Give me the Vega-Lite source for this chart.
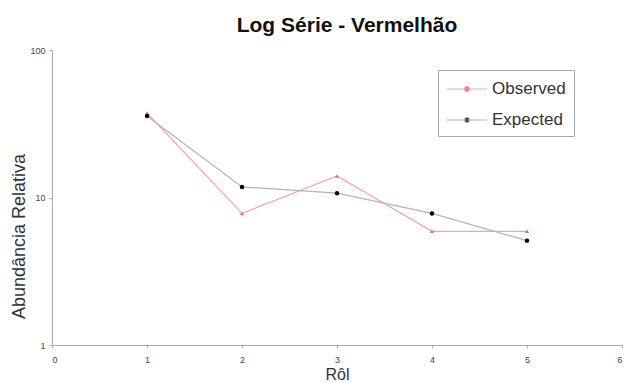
{
  "$schema": "https://vega.github.io/schema/vega-lite/v6.json",
  "width": 570,
  "height": 295,
  "autosize": {"type": "none"},
  "padding": {"left": 52, "top": 50, "right": 2, "bottom": 38},
  "background": "white",
  "title": {
    "text": "Log Série - Vermelhão",
    "font": "Liberation Sans",
    "fontSize": 21,
    "fontWeight": "bold",
    "color": "#111111",
    "offset": 10,
    "dx": 10
  },
  "config": {
    "view": {"stroke": null},
    "font": "Liberation Sans"
  },
  "data": {
    "values": [
      {"rank": 1, "series": "Observed", "value": 37.4},
      {"rank": 2, "series": "Observed", "value": 7.8},
      {"rank": 3, "series": "Observed", "value": 14.0},
      {"rank": 4, "series": "Observed", "value": 5.9},
      {"rank": 5, "series": "Observed", "value": 5.9},
      {"rank": 1, "series": "Expected", "value": 35.7},
      {"rank": 2, "series": "Expected", "value": 11.8},
      {"rank": 3, "series": "Expected", "value": 10.7},
      {"rank": 4, "series": "Expected", "value": 7.8},
      {"rank": 5, "series": "Expected", "value": 5.1}
    ]
  },
  "encoding": {
    "x": {
      "field": "rank",
      "type": "quantitative",
      "scale": {"domain": [0, 6], "nice": false, "zero": false},
      "axis": {
        "title": "Rôl",
        "titleFont": "Liberation Sans",
        "titleFontSize": 16,
        "titleFontWeight": "normal",
        "titleColor": "#333333",
        "titleBaseline": "alphabetic",
        "titleY": 34,
        "values": [0, 1, 2, 3, 4, 5, 6],
        "grid": false,
        "domainColor": "#aaaaaa",
        "tickColor": "#aaaaaa",
        "tickSize": 3,
        "labelFontSize": 9,
        "labelColor": "#444444",
        "labelPadding": 7
      }
    },
    "y": {
      "field": "value",
      "type": "quantitative",
      "scale": {"type": "log", "domain": [1, 100], "nice": false},
      "axis": {
        "title": "Abundância Relativa",
        "titleFont": "Liberation Sans",
        "titleFontSize": 18,
        "titleFontWeight": "normal",
        "titleColor": "#333333",
        "titleAngle": -90,
        "titleAlign": "center",
        "titleBaseline": "middle",
        "titleX": -33,
        "titleY": 186,
        "values": [1, 10, 100],
        "grid": false,
        "domainColor": "#aaaaaa",
        "tickColor": "#aaaaaa",
        "tickSize": 3,
        "labelFontSize": 9,
        "labelColor": "#444444",
        "labelPadding": 4
      }
    }
  },
  "layer": [
    {
      "mark": {"type": "line", "strokeWidth": 1.2},
      "encoding": {
        "color": {
          "field": "series",
          "type": "nominal",
          "scale": {"domain": ["Observed", "Expected"], "range": ["#f4a3ad", "#b4b4b4"]},
          "legend": {
            "title": null,
            "orient": "none",
            "legendX": 386,
            "legendY": 20,
            "direction": "vertical",
            "fillColor": "white",
            "strokeColor": "#aaaaaa",
            "padding": 8,
            "labelFont": "Liberation Sans",
            "labelFontSize": 17,
            "labelColor": "#333333",
            "symbolType": "M-1,0L3,0M0.75,0A0.25,0.25,0,1,1,1.25,0A0.25,0.25,0,1,1,0.75,0Z",
            "symbolSize": 400,
            "symbolStrokeWidth": 1.2,
            "rowPadding": 12,
            "labelOffset": 24,
            "encode": {
              "symbols": {
                "update": {
                  "fill": {"signal": "datum.value === 'Observed' ? '#e06a7c' : '#000000'"},
                  "fillOpacity": {"value": 1}
                }
              }
            }
          }
        }
      }
    },
    {
      "transform": [{"filter": "datum.series === 'Observed'"}],
      "mark": {"type": "point", "filled": true, "size": 16, "shape": "triangle-up", "color": "#e06a7c", "opacity": 1}
    },
    {
      "transform": [{"filter": "datum.series === 'Expected'"}],
      "mark": {"type": "point", "filled": true, "size": 20, "shape": "circle", "color": "#000000", "opacity": 1}
    }
  ]
}
